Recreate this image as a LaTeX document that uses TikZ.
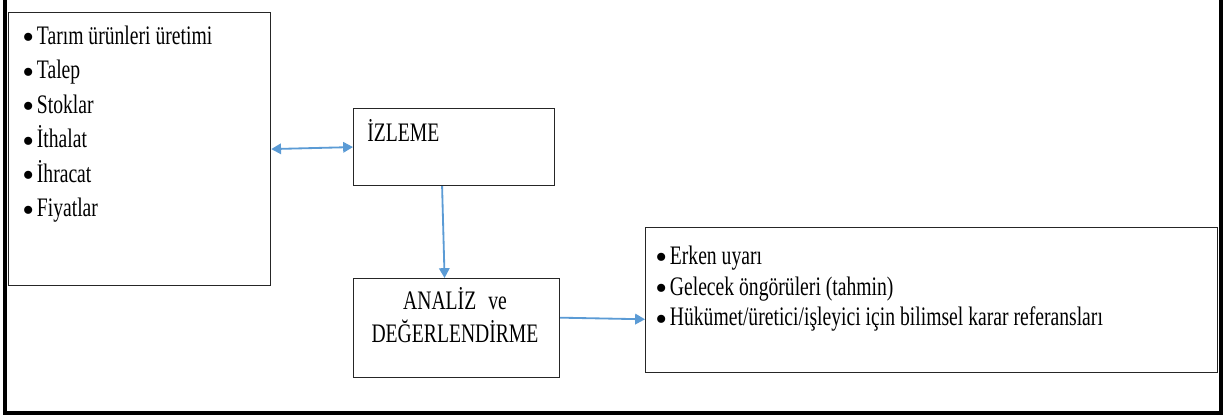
\documentclass[tikz,border=0pt]{standalone}
\usepackage{fontspec}
\setmainfont{Liberation Serif}[FakeStretch=0.735]
\newfontfamily\bulletfont{Liberation Serif}
\usetikzlibrary{arrows.meta, positioning}
\definecolor{linkblue}{RGB}{91,155,213}
\newcommand{\blt}{\smash{\raisebox{-3.3pt}{\bulletfont\fontsize{24}{24}\selectfont\textbullet}}\hspace{2pt}}

\begin{document}
\begin{tikzpicture}[x=0.025cm, y=-0.025cm, >={Triangle[length=7pt, width=7.5pt]}]
  \tikzstyle{box} = [draw=black!85, line width=0.8pt, rectangle, inner sep=0pt, anchor=north west]
  \tikzstyle{txt} = [inner sep=0pt, font=\fontsize{19}{24}\selectfont]
  \tikzstyle{link} = [draw=linkblue, line width=1.3pt]
  \useasboundingbox (0,0) rectangle (1225,418);
  \draw[line width=2.5pt] (5,0) -- (5,413) -- (1221,413) -- (1221,0);

  % left box: monitored data
  \node[box, minimum width=6.55cm, minimum height=6.825cm] (data) at (8,12) {};
  \node[txt, anchor=base west, align=left, font=\fontsize{19}{24.5}\selectfont] (datalist) at (22,216.5)
    {\blt Tarım ürünleri üretimi\\
     \blt Talep\\
     \blt Stoklar\\
     \blt İthalat\\
     \blt İhracat\\
     \blt Fiyatlar};

  \node[box, minimum width=5.025cm, minimum height=1.925cm] (izleme) at (353,108) {};
  \node[txt, anchor=base west] (izlemetxt) at (367,142) {İZLEME};

  \node[box, minimum width=5.15cm, minimum height=2.475cm] (analiz) at (353,278) {};
  \node[txt, anchor=base, align=center, font=\fontsize{19}{23.5}\selectfont] (analiztxt) at (455,343)
    {ANALİZ\hspace{0.45em}ve\\DEĞERLENDİRME};

  % right box: outputs
  \node[box, minimum width=14.3cm, minimum height=3.625cm] (outcome) at (645,227) {};
  \node[txt, anchor=base west, align=left, font=\fontsize{19}{22}\selectfont] (outcomelist) at (655,326)
    {\blt Erken uyarı\\
     \blt Gelecek öngörüleri (tahmin)\\
     \blt Hükümet/üretici/işleyici için bilimsel karar referansları};

  \draw[link, <->] (data.east) -- (izleme.west);
  \draw[link, ->] ([xshift=-0.3cm]izleme.south) -- ([xshift=-0.3cm]analiz.north);
  \draw[link, ->] ([yshift=0.26cm]analiz.east) -- ([yshift=-0.48cm]outcome.west);
\end{tikzpicture}
\end{document}
